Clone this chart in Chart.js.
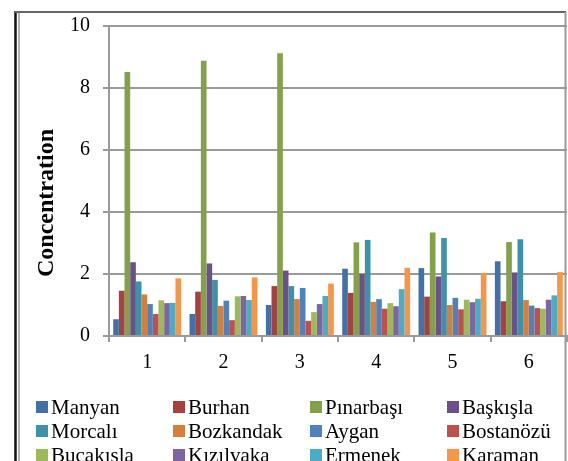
<!DOCTYPE html>
<html lang="tr">
<head>
  <meta charset="UTF-8">
  <title>Concentration</title>
  <script src="https://cdn.jsdelivr.net/npm/chart.js@4.4.1/dist/chart.umd.min.js"></script>
  <style>
    html, body { margin: 0; padding: 0; background: #fff; }
    #wrap { width: 568px; height: 461px; position: relative; }
  </style>
</head>
<body>
  <div id="wrap"><canvas id="myChart"></canvas></div>
<script>
  // categories and series values
  const categories = ['1', '2', '3', '4', '5', '6'];
  const yTicks = [0, 2, 4, 6, 8, 10];
  const yTitle = 'Concentration';

  const seriesNames = ['Manyan', 'Burhan', 'Pınarbaşı', 'Başkışla', 'Morcalı', 'Bozkandak',
                       'Aygan', 'Bostanözü', 'Bucakısla', 'Kızılvaka', 'Ermenek', 'Karaman'];

  const manyan    = [0.54, 0.71, 1.00, 2.17, 2.19, 2.41];
  const burhan    = [1.46, 1.43, 1.61, 1.39, 1.27, 1.12];
  const pinarbasi = [8.52, 8.88, 9.12, 3.02, 3.34, 3.03];
  const baskisla  = [2.38, 2.34, 2.11, 2.00, 1.92, 2.05];
  const morcali   = [1.76, 1.81, 1.61, 3.10, 3.16, 3.12];
  const bozkandak = [1.34, 0.97, 1.19, 1.10, 1.00, 1.16];
  const aygan     = [1.03, 1.14, 1.55, 1.19, 1.23, 0.98];
  const bostanozu = [0.71, 0.51, 0.49, 0.88, 0.86, 0.90];
  const bucakisla = [1.15, 1.28, 0.77, 1.06, 1.17, 0.88];
  const kizilvaka = [1.06, 1.29, 1.03, 0.96, 1.09, 1.17];
  const ermenek   = [1.07, 1.16, 1.29, 1.51, 1.20, 1.31];
  const karaman   = [1.86, 1.89, 1.69, 2.20, 2.03, 2.06];

  const seriesValues = [manyan, burhan, pinarbasi, baskisla, morcali, bozkandak,
                        aygan, bostanozu, bucakisla, kizilvaka, ermenek, karaman];

  const colors = ['#4271A7', '#A5413F', '#83A04A', '#6B5089', '#3D92AA', '#D57F3B',
                  '#4F81BD', '#C0504D', '#9BBB59', '#8064A2', '#4BACC6', '#F79646'];

  const serif = "'Liberation Serif', 'Times New Roman', serif";
  const gridGray = '#9a9a9a';

  // frame around the chart, y title, and the 4-column legend at the bottom
  const decor = {
    id: 'decor',
    beforeDraw(chart) {
      const c = chart.ctx;
      c.save();
      c.fillStyle = '#fff';
      c.fillRect(0, 0, chart.width, chart.height);
      c.strokeStyle = '#111';
      c.lineWidth = 2.5;
      c.beginPath(); c.moveTo(15.5, 11); c.lineTo(15.5, chart.height); c.stroke();
      c.strokeStyle = '#999';
      c.lineWidth = 1.5;
      c.beginPath(); c.moveTo(19, 12); c.lineTo(19, chart.height); c.stroke();
      c.strokeStyle = '#666';
      c.lineWidth = 2;
      c.beginPath(); c.moveTo(15, 12); c.lineTo(566, 12); c.stroke();
      c.strokeStyle = '#999';
      c.beginPath(); c.moveTo(565.5, 12); c.lineTo(565.5, chart.height); c.stroke();
      c.restore();
    },
    afterDraw(chart) {
      const c = chart.ctx;
      c.save();
      // y axis title
      c.translate(53, 203);
      c.rotate(-Math.PI / 2);
      c.font = 'bold 24px ' + serif;
      c.fillStyle = '#000';
      c.textAlign = 'center';
      c.textBaseline = 'alphabetic';
      c.fillText(yTitle, 0, 0);
      c.restore();

      // legend
      const colX = [36, 173, 310, 447];
      const rowBase = [414, 438, 462];
      c.save();
      c.font = '21px ' + serif;
      c.textBaseline = 'alphabetic';
      c.textAlign = 'left';
      chart.data.datasets.forEach((ds, i) => {
        const x = colX[i % 4];
        const y = rowBase[Math.floor(i / 4)];
        c.fillStyle = ds.backgroundColor;
        c.fillRect(x, y - 13, 12, 12);
        c.fillStyle = '#000';
        c.fillText(ds.label, x + 15, y);
      });
      c.restore();
    }
  };

  const ctx = document.getElementById('myChart').getContext('2d');
  const myChart = new Chart(ctx, {
    type: 'bar',
    data: {
      labels: categories,
      datasets: seriesNames.map((name, i) => ({
        label: name,
        data: seriesValues[i],
        backgroundColor: colors[i],
        borderWidth: 0,
        categoryPercentage: 0.89,
        barPercentage: 1.0
      }))
    },
    options: {
      responsive: true,
      maintainAspectRatio: false,
      animation: false,
      devicePixelRatio: 1,
      layout: { padding: { left: 0, top: 26, right: 1, bottom: 75 } },
      plugins: {
        legend: { display: false },
        tooltip: { enabled: false }
      },
      scales: {
        x: {
          afterFit(scale) { scale.height = 50; },
          grid: { drawOnChartArea: false, drawTicks: true, tickLength: 6, color: gridGray, lineWidth: 2, offset: true },
          border: { color: gridGray, width: 2 },
          ticks: { color: '#000', font: { family: serif, size: 20 }, padding: 9, maxRotation: 0 }
        },
        y: {
          min: 0,
          max: 10,
          afterFit(scale) { scale.width = 109; },
          afterBuildTicks(scale) { scale.ticks = yTicks.map(v => ({ value: v })); },
          grid: { color: gridGray, lineWidth: 2, tickLength: 6 },
          border: { color: gridGray, width: 2 },
          ticks: { color: '#000', font: { family: serif, size: 20 }, padding: 13 },
          title: { display: false }
        }
      }
    },
    plugins: [decor]
  });
</script>
</body>
</html>
